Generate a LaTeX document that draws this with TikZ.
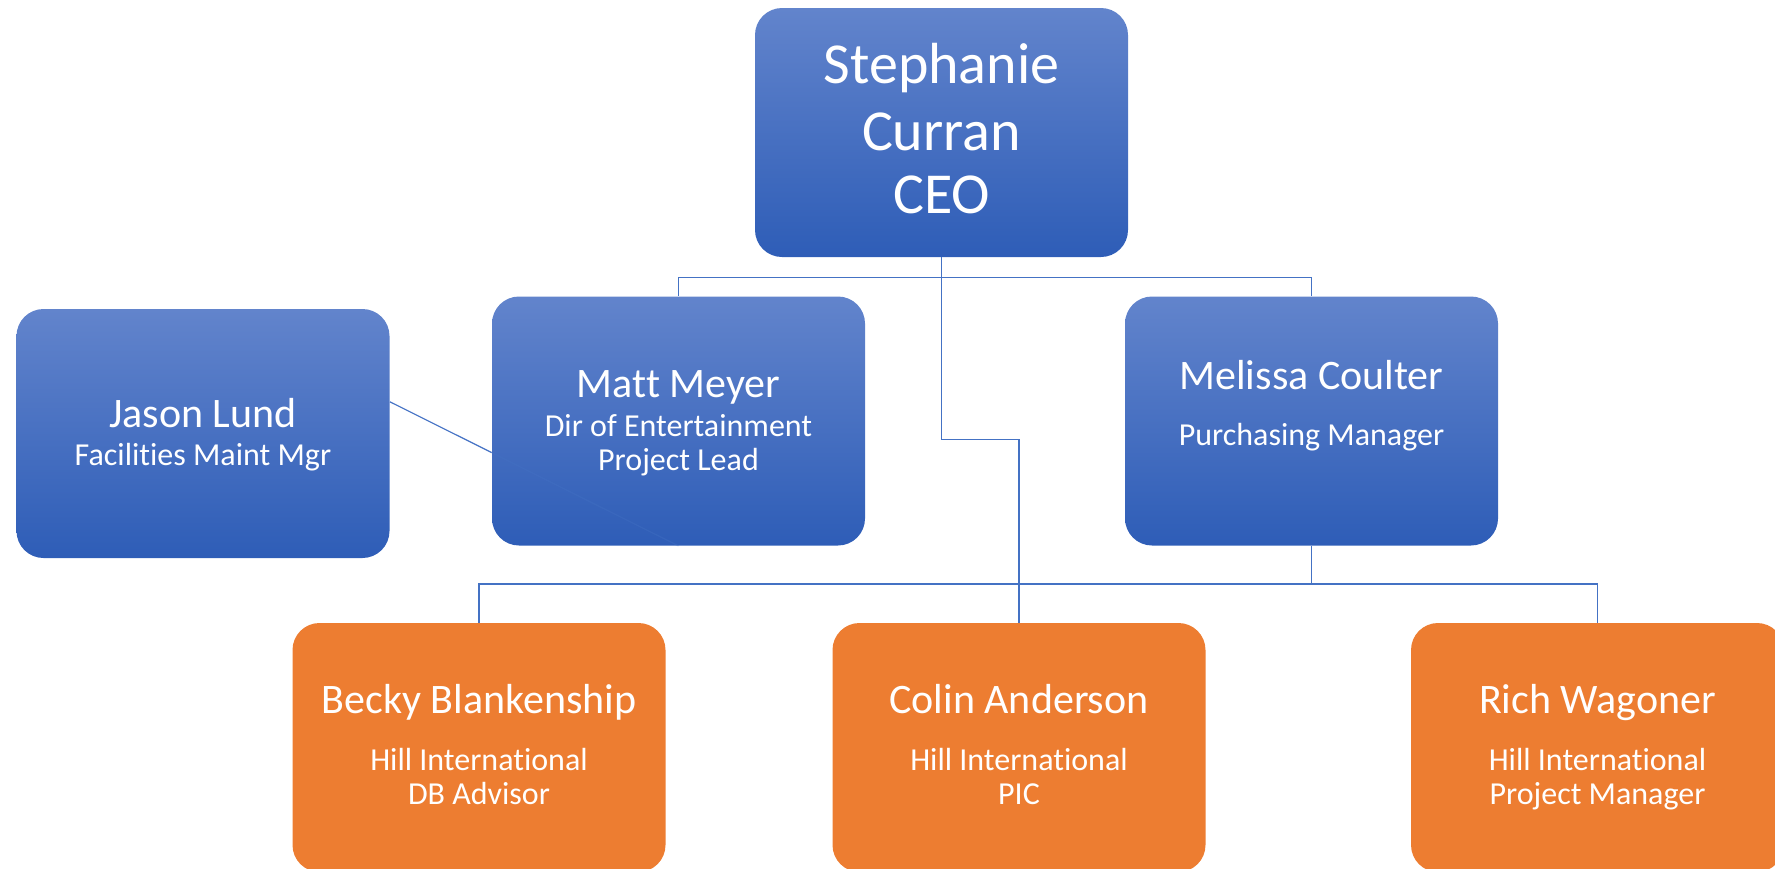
\documentclass[tikz,border=0pt]{standalone}
\usepackage{fontspec}
\setmainfont[RawFeature=-liga]{Carlito}
\usetikzlibrary{calc}
\definecolor{bluetop}{HTML}{6284CC}
\definecolor{bluebot}{HTML}{2E5DB7}
\definecolor{orng}{HTML}{ED7D31}
\definecolor{linkcol}{HTML}{4472C4}
\begin{document}
\begin{tikzpicture}[x=0.5pt,y=-0.5pt,
  bluebox/.style={rounded corners=13.5pt, minimum width=186.5pt, minimum height=124.5pt,
    top color=bluetop, bottom color=bluebot, draw=none, inner sep=0pt},
  obox/.style={rounded corners=13.5pt, minimum width=186.5pt, minimum height=124.5pt,
    fill=orng, draw=none, inner sep=0pt},
  link/.style={draw=linkcol, line width=0.75pt},
  ceotxt/.style={text=white, font=\fontsize{29}{33}\selectfont, anchor=base, inner sep=0pt},
  nm/.style={text=white, font=\fontsize{21}{25}\selectfont, anchor=base, inner sep=0pt},
  sub/.style={text=white, font=\fontsize{16}{19}\selectfont, anchor=base, inner sep=0pt}]
\useasboundingbox (0,0) rectangle (1775,868);
% boxes
\node[bluebox] (ceo) at (941.5,132.5) {};
\node[bluebox] (jason) at (203,433.5) {};
\node[bluebox] (matt) at (678.5,421) {};
\node[bluebox] (mel) at (1311.5,421) {};
\node[obox] (becky) at (479,747.5) {};
\node[obox] (colin) at (1019,747.5) {};
\node[obox] (rich) at (1597.5,747.5) {};
% texts
\node[ceotxt] (t1) at (941.5,83) {Stephanie};
\node[ceotxt] (t2) at (941.5,150) {Curran};
\node[ceotxt] (t3) at (941.5,213) {CEO};
\node[nm] (jn) at (203,427) {Jason Lund};
\node[sub] (js) at (203,465) {Facilities Maint Mgr};
\node[nm] (mn) at (678.5,397) {Matt Meyer};
\node[sub] (ms1) at (678.5,436) {Dir of Entertainment};
\node[sub] (ms2) at (678.5,470) {Project Lead};
\node[nm] (meln) at (1311.5,389) {Melissa Coulter};
\node[sub] (mels) at (1311.5,445) {Purchasing Manager};
\node[nm] (bn) at (479,713) {Becky Blankenship};
\node[sub] (bs1) at (479,770) {Hill International};
\node[sub] (bs2) at (479,804) {DB Advisor};
\node[nm] (cn) at (1019,713) {Colin Anderson};
\node[sub] (cs1) at (1019,770) {Hill International};
\node[sub] (cs2) at (1019,804) {PIC};
\node[nm] (rn) at (1597.5,713) {Rich Wagoner};
\node[sub] (rs1) at (1597.5,770) {Hill International};
\node[sub] (rs2) at (1597.5,804) {Project Manager};
% connectors
\coordinate (hubA) at ($(ceo.south)+(0,20)$);
\coordinate (bendC) at ($(ceo.south)+(0,182)$);
\coordinate (hubB) at ($(mel.south)+(0,38)$);
\draw[link] (ceo.south) -- (hubA);
\draw[link] (hubA) -| (matt.north);
\draw[link] (hubA) -| (mel.north);
\draw[link] (hubA) -- (bendC) -| (colin.north);
\draw[link] (mel.south) -- (hubB);
\draw[link] (hubB) -| (becky.north);
\draw[link] (hubB) -| (rich.north);
\coordinate (jp) at ($(jason.north east)!0.373!(jason.south east)$);
\coordinate (jm) at (intersection of jp--matt.south and matt.north west--matt.south west);
\draw[link, line width=0.6pt] (jp) -- (jm);
\draw[link, line width=0.6pt, draw opacity=0.35] (jm) -- (matt.south);
\end{tikzpicture}
\end{document}
